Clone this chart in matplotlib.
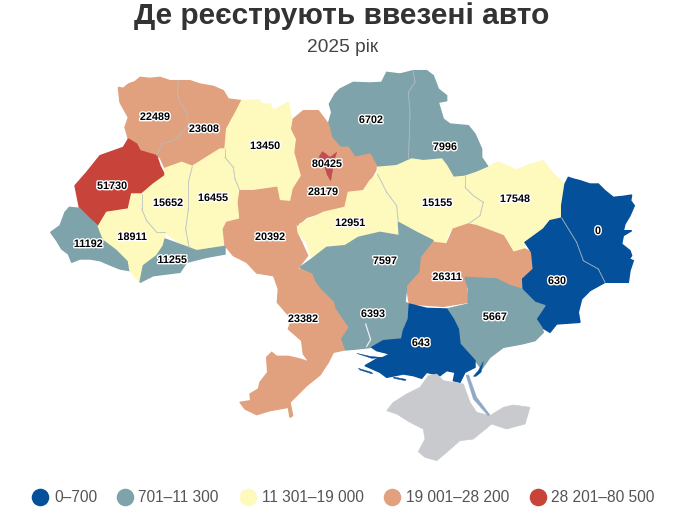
import matplotlib
matplotlib.use("Agg")
import matplotlib.pyplot as plt
import matplotlib.patheffects as pe
from matplotlib.patches import Polygon

TITLE = "Де реєструють ввезені авто"
SUBTITLE = "2025 рік"

regions = ["Volyn", "Rivne", "Zhytomyr", "Chernihiv", "Sumy", "Kyiv city", "Kyiv", "Lviv", "Ternopil",
           "Khmelnytskyi", "Cherkasy", "Poltava", "Kharkiv", "Luhansk", "Zakarpattia", "Ivano-Frankivsk",
           "Vinnytsia", "Chernivtsi", "Kirovohrad", "Dnipropetrovsk", "Donetsk", "Mykolaiv", "Zaporizhzhia",
           "Odesa", "Kherson"]
values = [22489, 23608, 13450, 6702, 7996, 80425, 28179, 51730, 15652,
          16455, 12951, 15155, 17548, 0, 11192, 18911,
          20392, 11255, 7597, 26311, 630, 6393, 5667,
          23382, 643]

class_labels = ["0–700", "701–11 300", "11 301–19 000", "19 001–28 200", "28 201–80 500"]
class_upper = [700, 11300, 19000, 28200, 80500]
class_colors = ["#05509a", "#7ea3aa", "#fef9bd", "#e1a17e", "#c8443b"]

label_xy = {
    "Volyn": (155, 118), "Rivne": (204, 130), "Zhytomyr": (265, 147), "Chernihiv": (371, 121), "Sumy": (445, 148),
    "Kyiv city": (327, 165), "Kyiv": (323, 193), "Lviv": (112, 187), "Ternopil": (168, 204),
    "Khmelnytskyi": (213, 199), "Cherkasy": (350, 224), "Poltava": (437, 204), "Kharkiv": (515, 200),
    "Luhansk": (598, 232), "Zakarpattia": (88, 245), "Ivano-Frankivsk": (132, 238), "Vinnytsia": (270, 238),
    "Chernivtsi": (172, 261), "Kirovohrad": (385, 262), "Dnipropetrovsk": (447, 278), "Donetsk": (557, 282),
    "Mykolaiv": (373, 315), "Zaporizhzhia": (495, 318), "Odesa": (303, 320), "Kherson": (421, 344),
}

# Region outlines, in three local tracing frames
F1, F2, F3 = (40, 70), (290, 70), (220, 270)
outlines = {
    "Volyn": (F1, [(235,55),(250,58),(265,45),(285,38),(300,25),(330,28),(360,25),(390,35),(415,35),(412,70),(420,100),(440,130),(445,165),(410,210),(365,225),(350,260),(300,245),(290,225),(265,210),(255,175),(265,145),(240,100)]),
    "Rivne": (F1, [(415,35),(450,35),(480,45),(520,52),(550,65),(565,90),(605,95),(590,125),(572,150),(560,180),(555,240),(500,265),(460,292),(425,280),(375,298),(360,265),(350,260),(365,225),(410,210),(445,165),(440,130),(420,100),(412,70)]),
    "Lviv": (F1, [(265,210),(290,225),(300,245),(350,260),(360,290),(375,320),(340,345),(305,375),(275,375),(265,420),(200,430),(175,472),(150,450),(118,415),(105,350),(140,310),(180,260),(250,235)]),
    "Zakarpattia": (F1, [(88,415),(118,418),(150,450),(175,472),(190,510),(230,540),(265,575),(270,605),(240,600),(215,590),(180,575),(150,570),(120,570),(95,580),(85,555),(65,540),(50,515),(32,490),(60,470),(75,430)]),
    "Ivano-Frankivsk": (F1, [(275,375),(305,375),(305,420),(320,455),(350,490),(375,490),(375,515),(370,530),(350,560),(310,590),(300,640),(270,605),(265,575),(230,540),(190,510),(175,472),(200,430),(265,420)]),
    "Chernivtsi": (F1, [(375,510),(430,530),(470,545),(555,532),(555,555),(500,565),(440,580),(420,610),(340,620),(300,640),(310,590),(350,560),(370,530)]),
    "Ternopil": (F1, [(305,375),(340,345),(375,320),(375,298),(425,280),(457,292),(445,340),(445,420),(437,480),(447,535),(410,515),(375,490),(350,490),(320,455),(305,420)]),
    "Khmelnytskyi": (F1, [(457,292),(500,265),(540,240),(555,240),(555,265),(580,295),(585,330),(600,365),(595,400),(600,450),(555,465),(550,520),(555,532),(470,545),(447,535),(437,480),(445,420),(445,340)]),
    "Zhytomyr": (F1, [(605,95),(620,95),(655,92),(670,105),(690,105),(700,125),(725,110),(745,100),(755,150),(755,180),(770,210),(765,250),(785,320),(760,360),(752,398),(718,395),(710,355),(640,365),(600,365),(585,330),(580,295),(555,265),(555,240),(560,180),(590,125)]),
    "Vinnytsia": (F1, [(600,365),(640,365),(710,355),(718,395),(752,398),(765,440),(770,490),(785,520),(803,560),(780,590),(765,610),(700,620),(650,612),(620,580),(580,560),(555,530),(550,480),(560,460),(600,450),(595,400)]),
    "Kyiv": (F2, [(10,150),(40,125),(85,125),(115,165),(125,205),(150,235),(175,235),(195,265),(240,255),(262,295),(240,335),(220,365),(175,370),(165,415),(100,430),(50,445),(22,470),(15,440),(2,398),(10,360),(35,320),(15,250),(20,210),(5,180)]),
    "Kyiv city": (F2, [(88,262),(97,248),(108,255),(120,265),(140,250),(132,275),(128,300),(122,335),(112,318),(105,295),(92,285)]),
    "Chernihiv": (F2, [(118,105),(135,75),(150,60),(190,40),(240,42),(275,40),(290,10),(330,15),(370,5),(375,40),(355,70),(360,130),(358,200),(355,270),(320,290),(262,295),(240,255),(195,265),(175,235),(150,235),(125,205),(115,165),(125,130)]),
    "Sumy": (F2, [(370,5),(410,5),(430,20),(445,60),(470,80),(470,95),(445,100),(460,150),(480,165),(535,170),(555,195),(575,240),(575,265),(595,295),(525,320),(490,325),(470,290),(455,270),(400,275),(355,270),(358,200),(360,130),(355,70),(375,40)]),
    "Poltava": (F2, [(262,295),(320,290),(365,270),(400,275),(455,270),(470,290),(490,325),(525,322),(525,355),(550,380),(580,400),(570,440),(535,465),(490,480),(470,500),(470,525),(430,515),(380,490),(325,460),(320,410),(290,370),(275,340),(262,315)]),
    "Kharkiv": (F2, [(525,322),(560,310),(595,295),(610,285),(625,280),(650,290),(680,303),(710,290),(760,275),(775,295),(790,315),(825,345),(815,410),(815,447),(780,455),(760,480),(705,520),(705,540),(670,550),(640,500),(560,470),(535,465),(570,440),(580,400),(550,380),(525,355)]),
    "Cherkasy": (F2, [(262,315),(275,340),(290,370),(320,410),(325,460),(328,500),(270,490),(205,505),(165,530),(110,535),(65,565),(50,520),(20,485),(30,465),(100,430),(165,415),(175,370),(220,365),(240,335)]),
    "Luhansk": (F2, [(835,325),(850,330),(870,335),(900,345),(925,345),(945,365),(970,385),(1000,382),(1025,378),(1022,395),(1033,410),(1020,440),(1005,465),(1000,485),(1025,485),(1000,500),(995,525),(1020,545),(1025,560),(1018,570),(1030,575),(1020,605),(1015,640),(945,640),(925,600),(880,575),(860,520),(815,447),(815,410),(825,345)]),
    "Donetsk": (F2, [(815,447),(860,520),(880,575),(925,600),(945,640),(900,665),(875,690),(865,730),(870,760),(800,765),(780,790),(755,775),(738,750),(765,710),(735,700),(700,680),(698,630),(730,600),(725,550),(705,520),(760,480),(780,455)]),
    "Dnipropetrovsk": (F2, [(395,565),(430,520),(470,525),(490,480),(535,465),(560,470),(640,500),(670,550),(705,540),(725,550),(730,600),(698,630),(695,660),(660,650),(620,630),(525,625),(530,660),(535,700),(460,712),(358,705),(350,655),(390,610)]),
    "Kirovohrad": (F2, [(30,595),(65,570),(110,535),(165,530),(205,505),(270,490),(328,500),(325,460),(380,490),(430,515),(395,565),(390,610),(350,655),(290,650),(200,660),(120,650),(70,625)]),
    "Mykolaiv": (F3, [(280,25),(330,50),(410,60),(500,50),(560,55),(555,100),(568,105),(565,150),(550,185),(545,210),(490,215),(455,235),(410,240),(375,243),(362,205),(383,175),(345,120),(340,100),(300,60)]),
    "Odesa": (F3, [(160,18),(240,0),(275,15),(285,40),(300,60),(340,100),(345,120),(383,175),(360,210),(373,243),(340,250),(325,280),(300,318),(260,350),(225,385),(210,400),(218,440),(210,445),(205,415),(150,425),(110,437),(75,420),(60,400),(92,395),(90,375),(115,360),(120,340),(143,310),(140,265),(155,250),(170,262),(205,262),(240,270),(270,280),(290,310),(250,255),(245,215),(205,180),(215,150),(172,100),(175,60)]),
    "Kherson": (F3, [(568,105),(620,118),(680,120),(700,150),(715,180),(720,225),(765,275),(765,295),(735,310),(720,340),(700,335),(705,310),(680,305),(660,320),(620,310),(605,328),(580,320),(550,315),(500,325),(480,310),(435,290),(470,270),(490,265),(510,255),(470,245),(455,235),(490,215),(545,210),(550,185),(565,150)]),
    "Zaporizhzhia": (F3, [(680,120),(745,105),(745,60),(735,25),(830,30),(870,50),(905,60),(945,100),(975,110),(948,150),(965,175),(970,190),(945,215),(905,225),(850,235),(810,265),(785,300),(770,280),(765,275),(720,225),(715,180),(700,150)]),
}
crimea_outline = (F3, [(500,425),(520,400),(560,375),(600,355),(625,320),(650,315),(670,335),(700,340),(730,345),(750,400),(770,430),(810,440),(850,415),(880,408),(930,415),(915,465),(860,480),(815,465),(760,510),(720,515),(680,550),(650,575),(615,565),(595,548),(615,510),(610,480),(570,460),(530,435)])
spits = [
    (F3, [(410,253),(450,262),(490,266),(455,268)], "#05509a"),
    (F3, [(415,298),(455,310),(458,315),(420,303)], "#05509a"),
    (F3, [(520,324),(558,331),(556,335),(522,328)], "#05509a"),
    (F3, [(760,322),(775,305),(790,278),(783,310),(768,322)], "#05509a"),
    (F3, [(738,318),(746,318),(770,385),(810,438),(804,440),(760,390)], "#8fa9c6"),
]
estuary_lines = [
    (F3, [(437,165),(445,190),(452,212),(440,232)]),
]


def to_axes(frame, pts):
    return [(frame[0] + x / 3, frame[1] + y / 3) for x, y in pts]


def class_color(v):
    for upper, color in zip(class_upper, class_colors):
        if v <= upper:
            return color
    return class_colors[-1]


fig = plt.figure(figsize=(6.96, 5.10), dpi=100)
ax = fig.add_axes([0, 0, 1, 1])
ax.set_xlim(0, 696)
ax.set_ylim(510, 0)
ax.axis("off")

value_of = dict(zip(regions, values))
for name in regions:
    if name == "Kyiv city":
        continue
    frame, pts = outlines[name]
    color = class_color(value_of[name])
    ax.add_patch(Polygon(to_axes(frame, pts), closed=True, facecolor=color, edgecolor=color, lw=1.0, zorder=2))

# Faint borders only between neighbouring regions of one class
for first in regions:
    if first == "Kyiv city":
        continue
    frame, pts = outlines[first]
    mapped = to_axes(frame, pts)
    for a, b in zip(mapped, mapped[1:] + mapped[:1]):
        for second in regions:
            if second in (first, "Kyiv city") or class_color(value_of[second]) != class_color(value_of[first]):
                continue
            other = to_axes(*outlines[second])
            if a in other and b in other:
                ax.plot([a[0], b[0]], [a[1], b[1]], color="#b4bfc4", lw=0.6, alpha=0.6, zorder=3,
                        solid_capstyle="round")

frame, pts = outlines["Kyiv city"]
ax.add_patch(Polygon(to_axes(frame, pts), closed=True, facecolor="#bf4f52", edgecolor="#bf4f52", lw=0.4, zorder=4))

ax.add_patch(Polygon(to_axes(*crimea_outline), closed=True, facecolor="#c9cacd", edgecolor="#c9cacd", lw=0.5, zorder=2))
for frame, pts, color in spits:
    ax.add_patch(Polygon(to_axes(frame, pts), closed=True, facecolor=color, edgecolor=color, lw=0.3, zorder=3))
for frame, pts in estuary_lines:
    xs, ys = zip(*to_axes(frame, pts))
    ax.plot(xs, ys, color="#ffffff", lw=0.9, alpha=0.85, zorder=3)

for name, value in zip(regions, values):
    x, y = label_xy[name]
    ax.text(x, y, str(value), ha="center", va="center", fontsize=7.8, fontweight="bold",
            family="Liberation Sans", color="#000000", zorder=6,
            path_effects=[pe.withStroke(linewidth=2.0, foreground="#ffffff")])

ax.text(342, 16.5, TITLE, ha="center", va="center", fontsize=21.5, fontweight="bold",
        family="Liberation Sans", color="#333333")
ax.text(343, 47, SUBTITLE, ha="center", va="center", fontsize=13.8,
        family="Liberation Sans", color="#444444")

legend_marker_x = [40, 125, 248, 392, 538]
legend_text_x = [54, 138, 262, 406, 551]
for mx, tx, color, label in zip(legend_marker_x, legend_text_x, class_colors, class_labels):
    ax.scatter([mx], [498], s=160, color=color, linewidths=0, zorder=5)
    ax.text(tx, 498, label, ha="left", va="center", fontsize=11.2,
            family="Liberation Sans", color="#555555")

fig.savefig("out.png", dpi=100)
